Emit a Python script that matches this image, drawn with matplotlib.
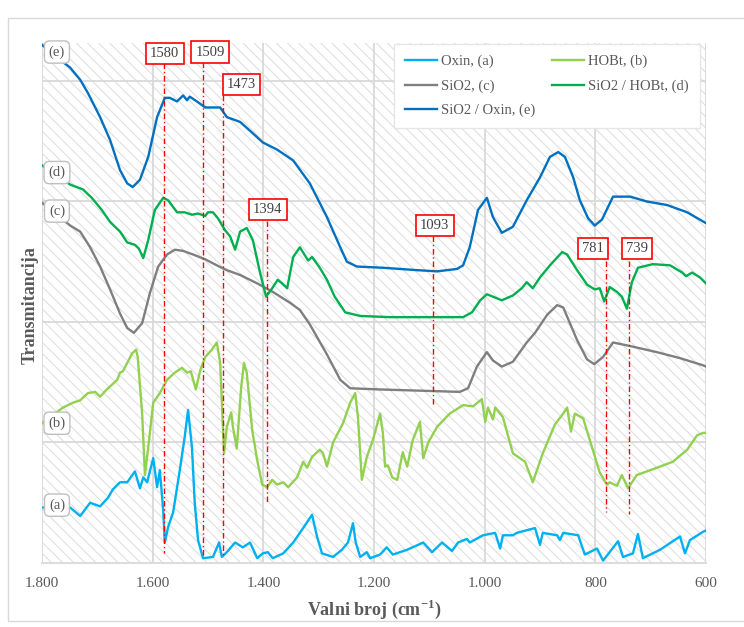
import matplotlib
matplotlib.use("Agg")
import matplotlib.pyplot as plt
from matplotlib.patches import Rectangle

plt.rcParams['font.family'] = ['Liberation Serif', 'DejaVu Serif']
plt.rcParams['hatch.linewidth'] = 0.7

# ---------------- data (wavenumber cm-1, relative transmittance) ----------------
e_wn = [1800, 1749, 1731, 1717, 1695, 1677, 1659, 1646, 1636, 1623, 1608, 1592, 1578, 1569,
        1556, 1545, 1538, 1533, 1520, 1505, 1493, 1478, 1466, 1442, 1420, 1401, 1375, 1346,
        1316, 1285, 1261, 1249, 1231, 1184, 1122, 1086, 1050, 1039, 1027, 1012, 996, 985,
        969, 949, 924, 900, 882, 867, 855, 840, 828, 813, 801, 788, 768, 737, 707, 670, 634, 600]
e_val = [4.30, 4.11, 4.01, 3.90, 3.70, 3.51, 3.26, 3.15, 3.12, 3.18, 3.37, 3.70, 3.86, 3.86,
         3.83, 3.88, 3.84, 3.87, 3.83, 3.78, 3.78, 3.78, 3.70, 3.66, 3.57, 3.49, 3.43, 3.34,
         3.15, 2.87, 2.62, 2.50, 2.46, 2.45, 2.43, 2.42, 2.44, 2.47, 2.62, 2.93, 3.03, 2.87,
         2.74, 2.79, 3.01, 3.20, 3.37, 3.41, 3.37, 3.20, 3.01, 2.86, 2.80, 2.85, 3.04, 3.04, 3.00, 2.97, 2.91, 2.82]

d_wn = [1800, 1749, 1726, 1710, 1692, 1677, 1659, 1646, 1632, 1625, 1617, 1608, 1596, 1581,
        1572, 1556, 1542, 1529, 1518, 1505, 1500, 1491, 1482, 1469, 1460, 1451, 1442, 1430,
        1419, 1406, 1395, 1384, 1374, 1366, 1357, 1346, 1334, 1319, 1312, 1298, 1285, 1271,
        1252, 1225, 1171, 1081, 1039, 1023, 1008, 996, 985, 969, 949, 933, 924, 913, 900,
        882, 860, 851, 833, 815, 801, 792, 784, 774, 761, 752, 743, 734, 723, 696, 665, 643,
        636, 625, 611, 600]
d_val = [3.30, 3.14, 3.10, 3.03, 2.93, 2.83, 2.75, 2.66, 2.64, 2.61, 2.53, 2.68, 2.93, 3.03,
         3.01, 2.91, 2.91, 2.89, 2.90, 2.88, 2.91, 2.91, 2.86, 2.76, 2.71, 2.60, 2.75, 2.78,
         2.68, 2.41, 2.21, 2.28, 2.35, 2.32, 2.28, 2.54, 2.62, 2.51, 2.54, 2.45, 2.35, 2.21,
         2.08, 2.05, 2.04, 2.04, 2.04, 2.08, 2.18, 2.23, 2.21, 2.18, 2.22, 2.28, 2.33, 2.28, 2.37,
         2.47, 2.58, 2.56, 2.43, 2.31, 2.27, 2.28, 2.17, 2.29, 2.25, 2.21, 2.11, 2.33, 2.45, 2.48, 2.47, 2.41,
         2.38, 2.41, 2.37, 2.32]

c_wn = [1800, 1749, 1731, 1713, 1695, 1677, 1659, 1646, 1634, 1619, 1605, 1590, 1574, 1560,
        1545, 1527, 1505, 1484, 1466, 1442, 1411, 1383, 1352, 1334, 1316, 1285, 1261, 1243,
        1189, 1045, 1030, 1014, 996, 985, 969, 949, 924, 909, 887, 869, 858, 833, 815, 802,
        786, 768, 737, 689, 647, 605, 600]
c_val = [2.99, 2.80, 2.75, 2.62, 2.46, 2.27, 2.07, 1.95, 1.91, 1.99, 2.24, 2.46, 2.56, 2.60,
         2.59, 2.56, 2.52, 2.47, 2.43, 2.39, 2.32, 2.25, 2.16, 2.10, 1.98, 1.73, 1.52, 1.45,
         1.44, 1.42, 1.45, 1.63, 1.75, 1.68, 1.63, 1.67, 1.83, 1.91, 2.06, 2.14, 2.12, 1.85, 1.69, 1.65,
         1.71, 1.83, 1.80, 1.75, 1.70, 1.64, 1.63]

b_wn = [1800, 1762, 1744, 1731, 1717, 1704, 1695, 1683, 1664, 1659, 1654, 1646, 1637, 1630,
        1627, 1619, 1614, 1608, 1599, 1587, 1574, 1560, 1547, 1538, 1531, 1522, 1514, 1505,
        1493, 1484, 1478, 1471, 1466, 1458, 1455, 1448, 1440, 1435, 1430, 1420, 1411, 1402,
        1393, 1384, 1375, 1364, 1355, 1339, 1328, 1321, 1312, 1298, 1292, 1285, 1274, 1256,
        1243, 1234, 1229, 1222, 1213, 1202, 1189, 1184, 1180, 1175, 1167, 1158, 1148, 1140,
        1130, 1117, 1111, 1102, 1086, 1063, 1039, 1021, 1005, 999, 994, 985, 981, 967, 949,
        927, 913, 895, 873, 858, 851, 844, 837, 822, 806, 792, 779, 774, 761, 752, 741, 725,
        689, 660, 634, 616, 605, 600]
b_val = [1.16, 1.29, 1.33, 1.35, 1.41, 1.42, 1.38, 1.44, 1.52, 1.58, 1.59, 1.66, 1.74, 1.77,
         1.71, 1.24, 0.73, 0.96, 1.33, 1.41, 1.52, 1.58, 1.62, 1.58, 1.59, 1.44, 1.60, 1.71,
         1.77, 1.83, 1.66, 0.91, 1.13, 1.25, 1.13, 0.95, 1.46, 1.66, 1.58, 1.10, 0.85, 0.65,
         0.63, 0.69, 0.65, 0.67, 0.63, 0.71, 0.84, 0.79, 0.88, 0.94, 0.91, 0.80, 1.00, 1.16,
         1.33, 1.41, 1.21, 0.69, 0.88, 1.02, 1.24, 1.08, 0.80, 0.81, 0.71, 0.69, 0.92, 0.80,
         1.02, 1.17, 0.87, 1.00, 1.13, 1.24, 1.31, 1.30, 1.36, 1.17, 1.29, 1.19, 1.29, 1.21, 0.91,
         0.84, 0.67, 0.91, 1.15, 1.24, 1.29, 1.09, 1.24, 1.20, 0.96, 0.75, 0.65, 0.67, 0.64, 0.73, 0.62, 0.73,
         0.79, 0.84, 0.94, 1.06, 1.08, 1.08]

a_wn = [1800, 1749, 1731, 1713, 1695, 1681, 1672, 1659, 1646, 1632, 1623, 1617, 1610, 1599,
        1592, 1587, 1581, 1578, 1572, 1563, 1551, 1542, 1536, 1529, 1524, 1518, 1509, 1491,
        1480, 1475, 1466, 1451, 1437, 1424, 1411, 1401, 1392, 1383, 1364, 1346, 1328, 1312,
        1303, 1294, 1274, 1258, 1247, 1238, 1233, 1225, 1213, 1207, 1189, 1177, 1166, 1140,
        1111, 1095, 1077, 1059, 1048, 1032, 1027, 1003, 981, 972, 967, 949, 942, 909, 900,
        895, 869, 864, 858, 831, 819, 797, 786, 759, 750, 732, 723, 714, 683, 647, 638, 629,
        605, 600]
a_val = [0.46, 0.46, 0.39, 0.50, 0.47, 0.54, 0.61, 0.67, 0.67, 0.76, 0.62, 0.71, 0.67, 0.87,
         0.63, 0.77, 0.44, 0.17, 0.30, 0.42, 0.77, 1.05, 1.27, 0.96, 0.50, 0.19, 0.04, 0.05,
         0.17, 0.05, 0.09, 0.17, 0.13, 0.17, 0.04, 0.08, 0.09, 0.04, 0.08, 0.17, 0.29, 0.40,
         0.22, 0.08, 0.05, 0.11, 0.17, 0.33, 0.17, 0.05, 0.09, 0.04, 0.07, 0.13, 0.07, 0.11,
         0.17, 0.09, 0.17, 0.10, 0.17, 0.20, 0.17, 0.23, 0.25, 0.12, 0.23, 0.23, 0.25, 0.29, 0.15,
         0.25, 0.23, 0.19, 0.25, 0.23, 0.07, 0.12, 0.02, 0.18, 0.05, 0.08, 0.24, 0.04, 0.11, 0.22, 0.08, 0.19,
         0.26, 0.27]

series_labels = ['Oxin, (a)', 'HOBt, (b)', 'SiO2, (c)', 'SiO2 / HOBt, (d)', 'SiO2 / Oxin, (e)']
series_colors = ['#00B0F0', '#92D050', '#7F7F7F', '#00B050', '#0070C0']

x_ticks = [1800, 1600, 1400, 1200, 1000, 800, 600]
x_tick_labels = ['1.800', '1.600', '1.400', '1.200', '1.000', '800', '600']

# peak markers: wavenumber, box position (wn, value), line from/to values
peak_wn = [1580, 1509, 1473, 1394, 1093, 781, 739]
peak_box_wn = [1578, 1496, 1439, 1392, 1090, 804, 724]
peak_box_val = [4.23, 4.24, 3.97, 2.93, 2.80, 2.61, 2.61]
peak_line_top = [4.15, 4.16, 3.88, 2.84, 2.71, 2.51, 2.51]
peak_line_bottom = [0.08, 0.05, 0.05, 0.51, 1.31, 0.42, 0.41]

curve_tags = ['(a)', '(b)', '(c)', '(d)', '(e)']
tag_wn = 1773
tag_val = [0.48, 1.16, 2.92, 3.24, 4.24]

# ---------------- figure ----------------
fig = plt.figure(figsize=(7.44, 6.27), dpi=100)
fig.patch.set_facecolor('white')
# outer chart border
fig.add_artist(Rectangle((8 / 744, 1 - 621 / 627), 740 / 744, 603 / 627, transform=fig.transFigure,
                         fill=False, ec='#d9d9d9', lw=1.0))

ax = fig.add_axes([42 / 744, 1 - 563 / 627, 664 / 744, 520 / 627])
ax.set_xlim(1800, 600)
ax.set_ylim(0, 4.315)
ax.set_facecolor('white')
ax.add_patch(Rectangle((0, 0), 1, 1, transform=ax.transAxes, facecolor='white',
                       edgecolor='#dcdcdc', hatch='\\\\\\', lw=0, zorder=0))

ax.set_xticks(x_ticks)
ax.set_xticklabels(x_tick_labels, fontsize=11, color='#595959')
ax.set_yticks([1, 2, 3, 4])
ax.set_yticklabels([])
ax.tick_params(length=0, pad=10)
ax.grid(True, color='#d9d9d9', lw=1.3, zorder=0.5)
ax.set_axisbelow(True)
for s in ['top', 'right', 'left']:
    ax.spines[s].set_visible(False)
ax.spines['bottom'].set_color('#d9d9d9')
ax.spines['bottom'].set_linewidth(1.3)

series = [(a_wn, a_val), (b_wn, b_val), (c_wn, c_val), (d_wn, d_val), (e_wn, e_val)]
handles = []
for (wn, val), lab, col in zip(series, series_labels, series_colors):
    h, = ax.plot(wn, val, color=col, lw=1.7, label=lab, zorder=3, solid_joinstyle='round')
    handles.append(h)

# peak markers
for pw, bw, bv, lt, lb in zip(peak_wn, peak_box_wn, peak_box_val, peak_line_top, peak_line_bottom):
    ax.plot([pw, pw], [lt, lb], color='red', lw=1.0, ls=(0, (4, 2, 1, 2)), zorder=4)
    ax.text(bw, bv, str(pw), ha='center', va='center', fontsize=10.5, color='#404040', zorder=6,
            bbox=dict(boxstyle='square,pad=0.28', fc='white', ec='red', lw=1.2))

# curve tags
for t, tv in zip(curve_tags, tag_val):
    ax.text(tag_wn, tv, t, ha='center', va='center', fontsize=10.5, color='#595959', zorder=6,
            bbox=dict(boxstyle='round,pad=0.3,rounding_size=0.35', fc='white', ec='#bfbfbf', lw=1.0))

order = [0, 2, 4, 1, 3]
leg = ax.legend([handles[i] for i in order], [series_labels[i] for i in order], ncol=2,
                loc='upper left', bbox_to_anchor=(0.530, 0.998), borderaxespad=0, fontsize=10.5,
                frameon=True, fancybox=False, edgecolor='#e6e6e6', framealpha=1,
                handlelength=2.2, columnspacing=1.2, labelspacing=0.75, borderpad=0.75,
                handletextpad=0.25)
leg.set_zorder(7)
for t in leg.get_texts():
    t.set_color('#595959')

ax.set_xlabel('Valni broj (cm$^{\\mathregular{-1}}$)', fontsize=13, fontweight='bold', color='#595959', labelpad=6)
fig.text(30 / 744, 1 - 305 / 627, 'Transmitancija', rotation=90, ha='center', va='center',
         fontsize=13, fontweight='bold', color='#595959')

fig.savefig('out.png', dpi=100, facecolor='white')
